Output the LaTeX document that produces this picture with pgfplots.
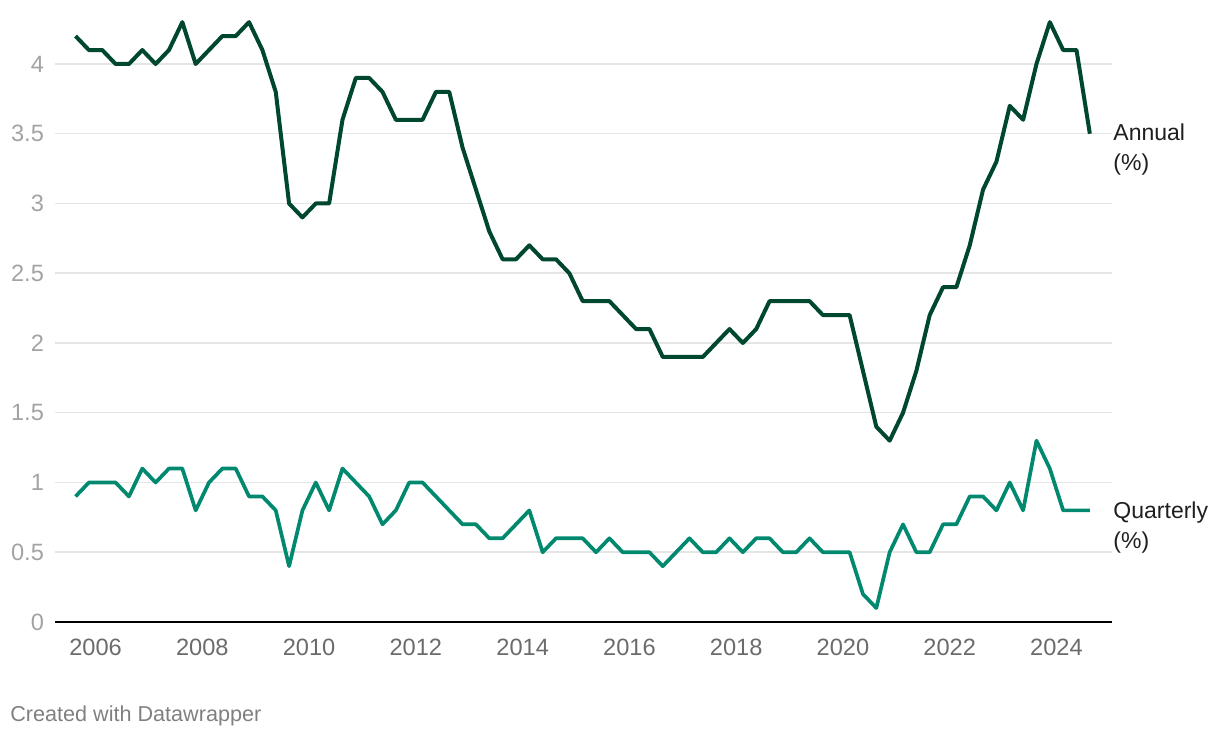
\documentclass[border=0pt]{standalone}
\usepackage{fontspec}
\setmainfont{Liberation Sans}
\usepackage{pgfplots}
\usepackage{pgfplotstable}
\pgfplotsset{compat=1.18}

\definecolor{annual}{HTML}{004730}
\definecolor{quarterly}{HTML}{00896E}
\definecolor{gridc}{HTML}{E5E5E5}
\definecolor{ylab}{HTML}{A3A3A3}
\definecolor{xlab}{HTML}{6B6B6B}
\definecolor{foot}{HTML}{808080}

% quarterly growth, % (annual = year on year, quarterly = quarter on quarter)
\pgfplotstableread{
x        annual quarterly
2005.625 4.2 0.9
2005.875 4.1 1.0
2006.125 4.1 1.0
2006.375 4.0 1.0
2006.625 4.0 0.9
2006.875 4.1 1.1
2007.125 4.0 1.0
2007.375 4.1 1.1
2007.625 4.3 1.1
2007.875 4.0 0.8
2008.125 4.1 1.0
2008.375 4.2 1.1
2008.625 4.2 1.1
2008.875 4.3 0.9
2009.125 4.1 0.9
2009.375 3.8 0.8
2009.625 3.0 0.4
2009.875 2.9 0.8
2010.125 3.0 1.0
2010.375 3.0 0.8
2010.625 3.6 1.1
2010.875 3.9 1.0
2011.125 3.9 0.9
2011.375 3.8 0.7
2011.625 3.6 0.8
2011.875 3.6 1.0
2012.125 3.6 1.0
2012.375 3.8 0.9
2012.625 3.8 0.8
2012.875 3.4 0.7
2013.125 3.1 0.7
2013.375 2.8 0.6
2013.625 2.6 0.6
2013.875 2.6 0.7
2014.125 2.7 0.8
2014.375 2.6 0.5
2014.625 2.6 0.6
2014.875 2.5 0.6
2015.125 2.3 0.6
2015.375 2.3 0.5
2015.625 2.3 0.6
2015.875 2.2 0.5
2016.125 2.1 0.5
2016.375 2.1 0.5
2016.625 1.9 0.4
2016.875 1.9 0.5
2017.125 1.9 0.6
2017.375 1.9 0.5
2017.625 2.0 0.5
2017.875 2.1 0.6
2018.125 2.0 0.5
2018.375 2.1 0.6
2018.625 2.3 0.6
2018.875 2.3 0.5
2019.125 2.3 0.5
2019.375 2.3 0.6
2019.625 2.2 0.5
2019.875 2.2 0.5
2020.125 2.2 0.5
2020.375 1.8 0.2
2020.625 1.4 0.1
2020.875 1.3 0.5
2021.125 1.5 0.7
2021.375 1.8 0.5
2021.625 2.2 0.5
2021.875 2.4 0.7
2022.125 2.4 0.7
2022.375 2.7 0.9
2022.625 3.1 0.9
2022.875 3.3 0.8
2023.125 3.7 1.0
2023.375 3.6 0.8
2023.625 4.0 1.3
2023.875 4.3 1.1
2024.125 4.1 0.8
2024.375 4.1 0.8
2024.625 3.5 0.8
}\growth

\begin{document}
\begin{tikzpicture}
\path[use as bounding box] (0,0) rectangle (610pt,369pt);
\begin{axis}[
    at={(27.5pt,58pt)}, anchor=south west,
    scale only axis,
    width=528.5pt, height=306.9pt,
    xmin=2005.24, xmax=2025.04,
    ymin=0, ymax=4.4,
    clip=false,
    axis x line*=bottom, axis y line*=left,
    x axis line style={draw=black, line width=1pt, -},
    y axis line style={draw=none},
    major tick length=0pt,
    xtick={2006,2008,...,2024},
    ytick={0,0.5,...,4},
    ymajorgrids,
    major grid style={gridc, line width=0.75pt},
    /pgf/number format/assume math mode=true,
    /pgf/number format/1000 sep={},
    xticklabel style={font=\fontsize{11.8}{14}\selectfont, text=xlab, yshift=-5pt},
    yticklabel style={font=\fontsize{11.8}{14}\selectfont, text=ylab, xshift=-2pt},
]
\addplot[annual, line width=2pt, line join=round, no marks] table[x=x, y=annual] {\growth};
\addplot[quarterly, line width=1.85pt, line join=round, no marks] table[x=x, y=quarterly] {\growth};
\node[anchor=west, align=left, inner sep=0pt, font=\fontsize{11.5}{15}\selectfont, text=black!88]
    at (axis cs:2025.06,3.39) {Annual\\(\%)};
\node[anchor=west, align=left, inner sep=0pt, font=\fontsize{11.5}{15}\selectfont, text=black!88]
    at (axis cs:2025.06,0.68) {Quarterly\\(\%)};
\end{axis}
\node[anchor=base west, inner sep=0pt, font=\fontsize{10.8}{13}\selectfont, text=foot]
    at (5pt,8pt) {Created with Datawrapper};
\end{tikzpicture}
\end{document}
